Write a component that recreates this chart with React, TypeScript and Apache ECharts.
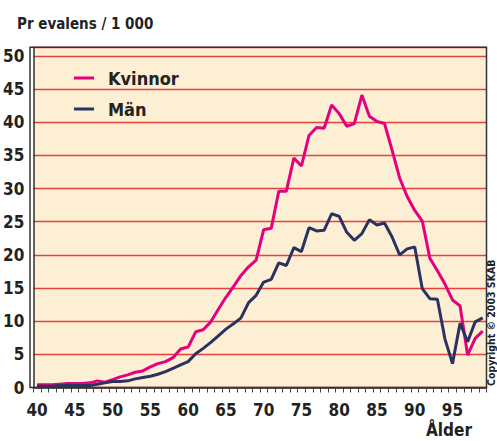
import React, { useEffect, useRef } from "react";
import * as echarts from "echarts";

const ages: string[] = [];
for (let a = 40; a <= 99; a++) ages.push(String(a));

const kvinnor = [
  0.4, 0.4, 0.4, 0.5, 0.6, 0.6, 0.6, 0.7, 1.0, 0.8,
  1.2, 1.6, 1.9, 2.3, 2.5, 3.1, 3.6, 3.9, 4.5, 5.8,
  6.1, 8.4, 8.7, 9.9, 11.8, 13.6, 15.2, 16.9, 18.2, 19.2,
  23.8, 24.0, 29.6, 29.6, 34.6, 33.4, 38.0, 39.2, 39.1, 42.6,
  41.3, 39.4, 39.8, 44.1, 40.9, 40.1, 39.8, 35.8, 31.6, 28.8,
  26.7, 25.1, 19.5, 17.6, 15.6, 13.2, 12.3, 4.9, 7.4, 8.5,
];

const man = [
  0.2, 0.2, 0.2, 0.3, 0.3, 0.3, 0.3, 0.3, 0.5, 0.7,
  0.9, 0.9, 1.0, 1.3, 1.5, 1.7, 2.0, 2.4, 2.9, 3.4,
  3.9, 5.1, 5.9, 6.8, 7.8, 8.8, 9.6, 10.5, 12.8, 13.9,
  15.9, 16.3, 18.8, 18.4, 21.1, 20.5, 24.1, 23.6, 23.7, 26.2,
  25.8, 23.4, 22.2, 23.2, 25.3, 24.5, 24.8, 22.7, 20.0, 20.9,
  21.2, 14.9, 13.4, 13.3, 7.3, 3.6, 9.7, 6.9, 9.9, 10.5,
];

const FONT = "'Liberation Sans Narrow', 'DejaVu Sans Condensed', 'Liberation Sans', sans-serif";

export default function App() {
  const ref = useRef<HTMLDivElement>(null);

  useEffect(() => {
    if (!ref.current) return;
    const chart = echarts.init(ref.current, undefined, { renderer: "svg" });
    const gridLeft = 30;
    const gridRight = 10.5;
    const gridTop = 47.3;
    const gridBottom = 53.5;
    const W = 497;
    const H = 441;
    chart.setOption({
      animation: false,
      backgroundColor: "#ffffff",
      textStyle: { fontFamily: FONT },
      title: {
        text: "Pr evalens / 1 000",
        left: 12,
        top: 11,
        textStyle: { fontFamily: FONT, fontSize: 15, fontWeight: "bold", color: "#222" },
      },
      legend: {
        orient: "vertical",
        left: 69,
        top: 64,
        itemWidth: 20,
        itemHeight: 3,
        itemGap: 13,
        icon: "rect",
        data: ["Kvinnor", "Män"],
        textStyle: {
          fontFamily: FONT,
          fontSize: 18,
          fontWeight: "bold",
          color: "#222",
          padding: [0, 0, 0, 9],
        },
      },
      grid: {
        left: gridLeft,
        right: gridRight,
        top: gridTop,
        bottom: gridBottom,
        show: true,
        backgroundColor: "#fdefd3",
        borderWidth: 0,
      },
      xAxis: {
        type: "category",
        data: ages,
        boundaryGap: true,
        axisLine: { show: true, lineStyle: { color: "#333", width: 1.5 } },
        axisTick: { show: true, interval: 0, length: 5, lineStyle: { color: "#444", width: 1 } },
        axisLabel: {
          interval: 4,
          margin: 14,
          fontFamily: FONT,
          fontSize: 17,
          fontWeight: "bold",
          color: "#222",
        },
        splitLine: { show: false },
      },
      yAxis: {
        type: "value",
        min: 0,
        max: 51.3,
        interval: 5,
        axisLine: { show: true, lineStyle: { color: "#333", width: 1.5 } },
        axisTick: { show: false },
        axisLabel: {
          showMaxLabel: false,
          margin: 9,
          fontFamily: FONT,
          fontSize: 17,
          fontWeight: "bold",
          color: "#222",
        },
        splitLine: { show: true, lineStyle: { color: "#e8403a", width: 1.3 } },
      },
      series: [
        {
          name: "Kvinnor",
          type: "line",
          data: kvinnor,
          symbol: "none",
          color: "#e5007d",
          lineStyle: { width: 3, color: "#e5007d" },
          z: 3,
        },
        {
          name: "Män",
          type: "line",
          data: man,
          symbol: "none",
          color: "#2b3262",
          lineStyle: { width: 3, color: "#2b3262" },
          z: 4,
        },
      ],
      graphic: [
        {
          type: "rect",
          z: 100,
          silent: true,
          shape: {
            x: gridLeft,
            y: gridTop,
            width: W - gridLeft - gridRight,
            height: H - gridTop - gridBottom,
          },
          style: { fill: "none", stroke: "#333", lineWidth: 1.5 },
        },
        {
          type: "text",
          z: 100,
          left: 426,
          top: 421,
          style: {
            text: "Ålder",
            fontFamily: FONT,
            fontSize: 17,
            fontWeight: "bold",
            fill: "#222",
          },
        },
        {
          type: "text",
          z: 100,
          x: 491,
          y: 386,
          rotation: Math.PI / 2,
          style: {
            text: "Copyright © 2003 SKAB",
            fontFamily: FONT,
            fontSize: 10.5,
            fontWeight: "bold",
            fill: "#222",
            align: "left",
            verticalAlign: "middle",
          },
        },
      ],
    });
    return () => chart.dispose();
  }, []);

  return (
    <div
      ref={ref}
      style={{ position: "fixed", left: 0, top: 0, width: 497, height: 441 }}
    />
  );
}
